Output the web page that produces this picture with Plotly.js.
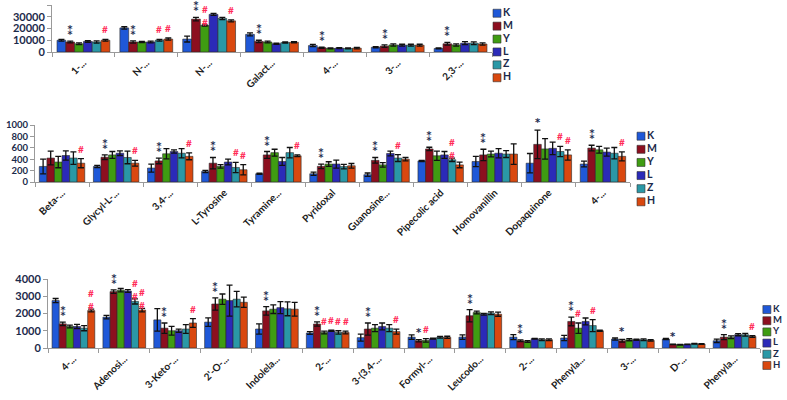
<!DOCTYPE html>
<html>
<head>
<meta charset="utf-8">
<script src="https://cdn.plot.ly/plotly-3.0.1.min.js"></script>
<style>
  body { margin: 0; background: #fff; }
  #chart { width: 787px; height: 400px; }
</style>
</head>
<body>
<div id="chart"></div>
<script>
var groups = ['K', 'M', 'Y', 'L', 'Z', 'H'];
var colors = ['#1f58d8', '#8c0f1f', '#3f9c12', '#2b2ab8', '#2a98a6', '#d9480f'];

// top panel
var cats1 = ['1-...', 'N-...', 'N-...', 'Galact...', '4-...', '3-...', '2,3-...'];
var vals1 = [
  [10000, 20500, 11000, 15000, 5500, 4000, 3000],
  [8500, 8500, 28000, 9000, 3700, 5000, 7000],
  [7000, 8500, 22500, 8500, 3000, 6000, 6000],
  [9000, 8500, 32000, 7000, 3300, 5800, 7500],
  [8500, 10000, 28500, 8000, 3000, 5800, 7500],
  [10000, 11000, 26500, 8300, 3300, 5800, 6800]
];
var errs1 = [
  [800, 1000, 2500, 1200, 1000, 500, 400],
  [700, 1000, 1500, 1000, 500, 1000, 1200],
  [800, 600, 500, 700, 400, 1000, 1000],
  [700, 800, 800, 500, 500, 800, 1300],
  [900, 800, 1000, 500, 400, 800, 1200],
  [800, 900, 800, 500, 600, 800, 900]
];
var marks1 = [
  ['', '', '', '', '', '', ''],
  ['**', '**', '**', '**', '**', '**', '**'],
  ['', '', '##', '', '', '', ''],
  ['', '', '', '', '', '', ''],
  ['', '#', '', '', '', '', ''],
  ['#', '#', '#', '', '', '', '']
];

// middle panel
var cats2 = ['Beta-...', 'Glycyl-L-...', '3,4-...', 'L-Tyrosine', 'Tyramine...', 'Pyridoxal',
  'Guanosine...', 'Pipecolic acid', 'Homovanillin', 'Dopaquinone', '4-...'];
var vals2 = [
  [273, 273, 245, 185, 145, 145, 128, 370, 360, 330, 315],
  [420, 435, 370, 330, 475, 275, 380, 580, 475, 660, 595],
  [350, 475, 495, 275, 515, 315, 300, 460, 490, 580, 565],
  [465, 505, 535, 350, 360, 315, 500, 475, 505, 590, 525],
  [420, 430, 505, 255, 515, 270, 420, 390, 490, 535, 505],
  [330, 330, 450, 215, 460, 285, 400, 300, 490, 475, 450]
];
var errs2 = [
  [130, 20, 70, 20, 10, 30, 30, 10, 90, 170, 50],
  [120, 40, 50, 100, 60, 40, 50, 30, 100, 250, 50],
  [100, 60, 90, 30, 60, 40, 40, 80, 50, 180, 60],
  [80, 40, 30, 50, 70, 70, 40, 60, 80, 110, 70],
  [110, 110, 80, 90, 90, 40, 60, 30, 60, 90, 100],
  [80, 50, 60, 90, 15, 40, 30, 50, 180, 90, 80]
];
var marks2 = [
  ['', '', '', '', '', '', '', '', '', '', ''],
  ['', '**', '**', '**', '**', '**', '**', '**', '**', '*', '**'],
  ['', '', '', '', '', '', '', '', '', '', ''],
  ['', '', '', '', '', '', '', '', '', '', ''],
  ['', '', '', '#', '', '', '#', '##', '', '#', ''],
  ['#', '#', '#', '#', '#', '', '', '', '', '#', '#']
];

// bottom panel
var cats3 = ['4-...', 'Adenosi...', '3-Keto-...', "2'-O-...", 'Indolela...', '2-...', '3-(3,4-...',
  'Formyl-...', 'Leucodo...', '2-...', 'Phenyla...', '3-...', 'D-...', 'Phenyla...'];
var vals3 = [
  [2750, 1790, 1630, 1500, 1100, 870, 600, 630, 630, 630, 580, 520, 520, 420],
  [1400, 3270, 1150, 2550, 2150, 1390, 1100, 420, 1870, 420, 1540, 420, 210, 630],
  [1250, 3350, 1000, 2830, 2250, 900, 1150, 440, 2060, 380, 1150, 480, 190, 620],
  [1250, 3300, 1000, 2750, 2340, 1000, 1250, 540, 1960, 540, 1540, 480, 210, 770],
  [1150, 2700, 1100, 2830, 2270, 900, 1150, 620, 2020, 480, 1300, 480, 250, 770],
  [2170, 2200, 1450, 2650, 2250, 900, 950, 620, 1960, 480, 1000, 440, 230, 670]
];
var errs3 = [
  [120, 100, 650, 250, 300, 80, 200, 130, 130, 150, 150, 60, 30, 100],
  [100, 100, 300, 350, 250, 120, 350, 60, 350, 50, 250, 80, 20, 150],
  [80, 100, 250, 300, 250, 80, 200, 100, 80, 50, 300, 60, 20, 80],
  [120, 80, 100, 900, 350, 40, 200, 30, 50, 20, 200, 40, 20, 60],
  [150, 150, 250, 450, 400, 100, 200, 50, 80, 50, 350, 50, 20, 80],
  [80, 100, 250, 300, 400, 80, 150, 60, 120, 50, 30, 40, 20, 50]
];
var marks3 = [
  ['', '', '', '', '', '', '', '', '', '', '', '', '', ''],
  ['**', '**', '**', '**', '**', '**', '**', '*', '**', '**', '**', '*', '*', '**'],
  ['', '', '', '', '', '#', '', '#', '', '', '#', '', '', ''],
  ['', '', '', '', '', '#', '', '', '', '', '', '', '', ''],
  ['', '##', '', '', '', '#', '', '', '', '', '#', '', '', ''],
  ['##', '##', '#', '', '', '#', '#', '', '', '', '', '', '', '#']
];

var W = 787, H = 400;
var barGap = 0.16;
// pixel boxes: plot area, y tick size, and key column (swatch centre x, first/last row y, font size)
var panels = [
  { cats: cats1, vals: vals1, errs: errs1, marks: marks1, x0: 52, x1: 492, y0: 5, y1: 52, max: 40000, step: 10000, ytick: 11, key: [497, 11, 80, 10.5] },
  { cats: cats2, vals: vals2, errs: errs2, marks: marks2, x0: 35, x1: 630, y0: 125, y1: 182, max: 1000, step: 200, ytick: 9.5, key: [641, 134, 204, 10.5] },
  { cats: cats3, vals: vals3, errs: errs3, marks: marks3, x0: 48, x1: 760, y0: 279, y1: 348, max: 4000, step: 1000, ytick: 11, key: [769, 307, 368, 9.5] }
];

var navy = '#1b2a4a';
var data = [];
var annotations = [];
var layout = {
  width: W, height: H,
  margin: { l: 0, r: 0, t: 0, b: 0 },
  paper_bgcolor: '#fff', plot_bgcolor: '#fff',
  barmode: 'group', bargap: barGap, bargroupgap: 0,
  showlegend: false,
  font: { family: 'Lato, sans-serif' },
  annotations: annotations
};

// how each significance mark is written and nudged
var markStyle = {
  '**': { text: '\u2051', size: 12, color: '#1d2b50', family: 'DejaVu Sans, sans-serif', shift: 1 },
  '*': { text: '*', size: 10, color: '#1d2b50', family: 'DejaVu Sans, sans-serif', shift: 0 },
  '#': { text: '#', size: 10, color: '#ff2a55', family: 'Lato, sans-serif', shift: 2 },
  '##': { text: '#<br>#', size: 10, color: '#ff2a55', family: 'Lato, sans-serif', shift: -5 }
};

panels.forEach(function (p, k) {
  var n = k + 1;
  var sfx = n === 1 ? '' : String(n);
  // unique keys because some names repeat
  var keys = p.cats.map(function (c, i) { return i + ':' + c; });

  groups.forEach(function (g, j) {
    data.push({
      type: 'bar',
      name: g,
      x: keys,
      y: p.vals[j],
      xaxis: 'x' + sfx,
      yaxis: 'y' + sfx,
      hoverinfo: 'skip',
      marker: { color: colors[j], line: { color: '#2a2a2a', width: 0.6 } },
      error_y: { type: 'data', array: p.errs[j], visible: true, color: '#111', thickness: 1.3, width: 3 }
    });
  });

  layout['xaxis' + sfx] = {
    domain: [p.x0 / W, p.x1 / W],
    anchor: 'y' + sfx,
    type: 'category',
    tickmode: 'array', tickvals: keys, ticktext: p.cats,
    tickangle: -45,
    tickfont: { family: 'Lato, sans-serif', size: 10, color: '#1a1a1a', weight: 'bold' },
    showline: true, linecolor: '#9a9a9a', linewidth: 1,
    ticks: 'outside', tickson: 'boundaries', ticklen: 4, tickcolor: '#9a9a9a',
    showgrid: false, zeroline: false, fixedrange: true
  };
  layout['yaxis' + sfx] = {
    domain: [1 - p.y1 / H, 1 - p.y0 / H],
    anchor: 'x' + sfx,
    range: [0, p.max], dtick: p.step, tick0: 0, tickformat: 'd',
    tickfont: { family: 'Lato, sans-serif', size: p.ytick, color: navy, weight: 'bold' },
    showline: true, linecolor: '#9a9a9a', linewidth: 1,
    ticks: 'outside', ticklen: 4, tickcolor: '#9a9a9a',
    showgrid: false, zeroline: false, fixedrange: true
  };

  // key column for the panel, on its own hidden axes
  var lx = 'x' + (n + 3), ly = 'y' + (n + 3);
  var step = (p.key[2] - p.key[1]) / (groups.length - 1);
  layout['xaxis' + (n + 3)] = {
    domain: [(p.key[0] - 5) / W, (p.key[0] + 35) / W], range: [-0.5, 3.5],
    anchor: ly, visible: false, fixedrange: true
  };
  layout['yaxis' + (n + 3)] = {
    domain: [1 - (p.key[2] + step / 2) / H, 1 - (p.key[1] - step / 2) / H],
    anchor: lx, type: 'category', autorange: 'reversed', visible: false, fixedrange: true
  };
  data.push({
    type: 'scatter', mode: 'markers+text',
    x: groups.map(function () { return 0; }),
    y: groups,
    text: groups,
    textposition: 'middle right',
    textfont: { family: 'Lato, sans-serif', size: p.key[3], color: navy, weight: 'bold' },
    marker: { symbol: 'square', size: 8, color: colors, line: { color: '#333', width: 0.6 } },
    xaxis: lx, yaxis: ly, cliponaxis: false, hoverinfo: 'skip'
  });

  // significance marks above the error bars
  var catW = (p.x1 - p.x0) / p.cats.length;
  var bw = catW * (1 - barGap) / groups.length;
  groups.forEach(function (g, j) {
    p.marks[j].forEach(function (m, i) {
      if (!m) return;
      var st = markStyle[m];
      annotations.push({
        xref: 'x' + sfx, yref: 'y' + sfx,
        x: keys[i], y: p.vals[j][i] + p.errs[j][i],
        xshift: (j - 2.5) * bw,
        yshift: st.shift,
        yanchor: 'bottom', xanchor: 'center',
        showarrow: false,
        text: st.text,
        font: { family: st.family, size: st.size, color: st.color, weight: 'bold' }
      });
    });
  });
});

Plotly.newPlot('chart', data, layout, { displayModeBar: false, staticPlot: true });
</script>
</body>
</html>
